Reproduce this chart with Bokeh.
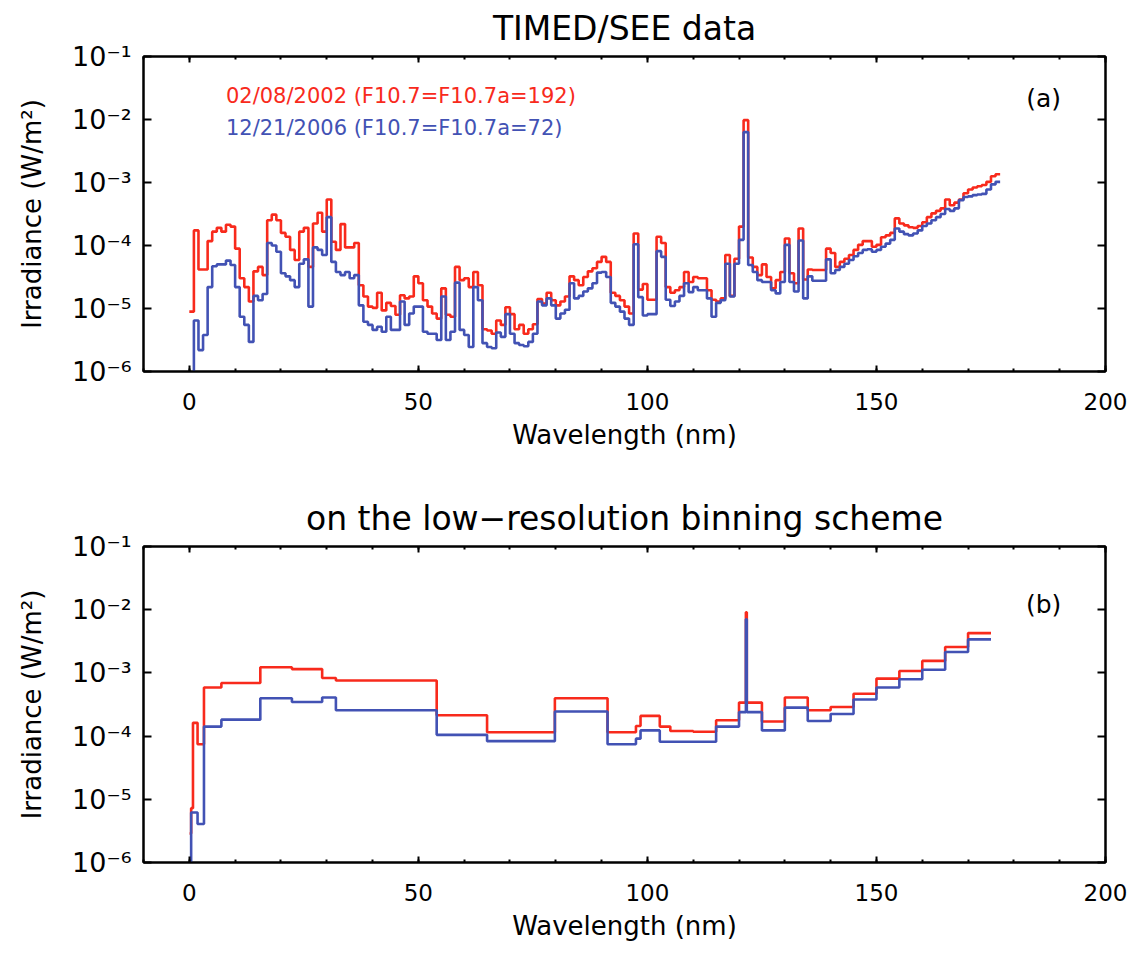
from bokeh.plotting import figure
from bokeh.layouts import column
from bokeh.models import (Range1d, LinearAxis, LogAxis, FixedTicker,
                          SingleIntervalTicker, CustomJSTickFormatter, Label,
                          CustomLabelingPolicy)
from bokeh.embed import file_html
from bokeh.resources import INLINE

FONT = "DejaVu Sans"
RED = "#f82a1c"
BLUE = "#4252b4"

# TIMED/SEE spectra in 1 nm bins (edges 0..177 nm), log10 of irradiance in W/m^2
see_edges = list(range(0, 178))

red_log10 = [
    -5.05, -3.76, -4.38, -4.38, -3.93, -3.78, -3.72, -3.78, -3.67, -3.70,
    -4.05, -4.52, -4.66, -4.89, -4.41, -4.34, -4.47, -3.60, -3.51, -3.60,
    -3.80, -3.86, -4.07, -4.23, -3.78, -3.72, -4.34, -3.65, -3.48, -3.78,
    -3.27, -3.94, -4.07, -3.66, -4.03, -4.03, -3.96, -4.63, -4.81, -4.97,
    -4.99, -4.75, -5.03, -4.91, -4.96, -5.10, -4.79, -4.84, -4.81, -4.49,
    -4.60, -4.87, -4.97, -5.08, -5.16, -4.68, -5.10, -5.13, -4.34, -4.55,
    -4.52, -4.66, -4.42, -4.63, -5.33, -5.35, -5.40, -5.19, -5.26, -4.98,
    -5.09, -5.33, -5.26, -5.40, -5.33, -5.25, -4.85, -4.92, -4.75, -4.87,
    -4.95, -4.89, -4.81, -4.49, -4.55, -4.63, -4.50, -4.41, -4.36, -4.26,
    -4.18, -4.26, -4.75, -4.80, -4.87, -4.97, -5.08, -3.81, -4.70, -4.61,
    -4.86, -4.86, -3.86, -3.96, -4.66, -4.75, -4.71, -4.66, -4.42, -4.58,
    -4.50, -4.52, -4.52, -4.71, -4.86, -4.89, -4.84, -4.15, -4.80, -4.21,
    -3.70, -2.01, -4.19, -4.34, -4.47, -4.30, -4.50, -4.68, -4.55, -4.42,
    -3.89, -4.44, -4.60, -3.73, -4.54, -4.38, -4.39, -4.39, -4.39, -4.05,
    -4.12, -4.34, -4.26, -4.21, -4.15, -4.07, -3.99, -3.93, -3.93, -4.02,
    -3.99, -3.87, -3.84, -3.80, -3.57, -3.65, -3.68, -3.71, -3.72, -3.69,
    -3.63, -3.55, -3.49, -3.45, -3.41, -3.27, -3.36, -3.32, -3.27, -3.17,
    -3.11, -3.08, -3.06, -3.04, -2.99, -2.90, -2.87,
]

blue_log10 = [
    -6.50, -5.19, -5.66, -5.42, -4.66, -4.33, -4.30, -4.30, -4.24, -4.31,
    -4.66, -5.13, -5.26, -5.53, -4.80, -4.87, -4.77, -3.96, -4.00, -4.10,
    -4.44, -4.49, -4.55, -4.66, -4.29, -4.22, -4.97, -4.03, -4.07, -4.15,
    -3.55, -4.26, -4.42, -4.47, -4.42, -4.52, -4.47, -4.95, -5.21, -5.26,
    -5.34, -5.29, -5.37, -5.13, -5.34, -5.34, -4.89, -5.26, -5.08, -4.97,
    -4.97, -5.37, -5.40, -5.40, -5.50, -4.81, -5.50, -5.37, -4.59, -5.34,
    -5.42, -5.61, -4.66, -4.87, -5.55, -5.61, -5.63, -5.38, -5.45, -5.09,
    -5.40, -5.55, -5.58, -5.60, -5.53, -5.40, -4.89, -4.95, -4.84, -4.95,
    -5.16, -5.08, -5.02, -4.60, -4.84, -4.80, -4.73, -4.68, -4.60, -4.43,
    -4.42, -4.50, -4.91, -4.97, -5.05, -5.16, -5.26, -3.98, -4.82, -5.11,
    -5.09, -5.09, -4.09, -4.18, -4.86, -4.96, -4.89, -4.80, -4.60, -4.74,
    -4.66, -4.71, -4.71, -4.84, -5.13, -4.91, -4.87, -4.29, -4.81, -4.29,
    -3.91, -2.20, -4.31, -4.42, -4.55, -4.58, -4.58, -4.71, -4.76, -4.58,
    -3.99, -4.58, -4.73, -3.92, -4.84, -4.49, -4.56, -4.56, -4.56, -4.22,
    -4.44, -4.39, -4.34, -4.29, -4.23, -4.17, -4.12, -4.07, -4.06, -4.10,
    -4.07, -4.02, -3.97, -3.91, -3.73, -3.78, -3.82, -3.84, -3.81, -3.76,
    -3.69, -3.65, -3.60, -3.55, -3.50, -3.42, -3.45, -3.41, -3.28, -3.23,
    -3.22, -3.20, -3.19, -3.18, -3.11, -3.03, -2.99,
]

# Low-resolution binning scheme (nm edges) and binned log10 irradiance
low_edges = [0.05, 0.4, 0.8, 1.8, 3.2, 7.0, 15.5, 22.4, 29.0, 32.0, 54.0,
             65.0, 79.8, 91.3, 97.5, 98.5, 102.7, 105.0, 110.0, 115.0, 120.0,
             121.5, 121.7, 125.0, 130.0, 135.0, 140.0, 145.0, 150.0, 155.0,
             160.0, 165.0, 170.0, 175.0]

red_low_log10 = [-5.54, -5.14, -3.79, -4.13, -3.23, -3.16, -2.91, -2.94,
                 -3.08, -3.12, -3.67, -3.94, -3.40, -3.94, -3.84, -3.68,
                 -3.85, -3.92, -3.93, -3.75, -3.47, -2.04, -3.47, -3.77,
                 -3.39, -3.59, -3.54, -3.33, -3.09, -2.97, -2.81, -2.59,
                 -2.37]

blue_low_log10 = [-6.50, -5.21, -5.21, -5.39, -3.85, -3.74, -3.40, -3.46,
                  -3.39, -3.59, -3.98, -4.08, -3.61, -4.13, -4.04, -3.91,
                  -4.09, -4.09, -4.09, -3.85, -3.62, -2.15, -3.62, -3.91,
                  -3.55, -3.76, -3.65, -3.42, -3.23, -3.10, -2.95, -2.67,
                  -2.47]

decade_ticks = [1e-6, 1e-5, 1e-4, 1e-3, 1e-2, 1e-1]

legend_red = "02/08/2002 (F10.7=F10.7a=192)"
legend_blue = "12/21/2006 (F10.7=F10.7a=72)"

POW_JS = """
const e = Math.round(Math.log10(tick));
const sup = {"-": "\u207b", "0": "\u2070", "1": "\u00b9", "2": "\u00b2",
             "3": "\u00b3", "4": "\u2074", "5": "\u2075", "6": "\u2076",
             "7": "\u2077", "8": "\u2078", "9": "\u2079"};
return "10" + String(e).split("").map(c => sup[c]).join("");
"""

# mirrored axes keep their ticks but draw no labels
HIDE_LABELS_JS = """
for (const i of indices) {
    indices.unset(i)
}
return indices
"""


def steps(edges, logs):
    ys = [10.0 ** v for v in logs]
    return list(edges), ys + [ys[-1]]


def style_x(axis, labels):
    axis.ticker = SingleIntervalTicker(interval=50, num_minor_ticks=5)
    axis.axis_line_color = "black"
    axis.axis_line_width = 2
    axis.major_tick_in = 6
    axis.major_tick_out = 0
    axis.minor_tick_in = 3
    axis.minor_tick_out = 0
    axis.major_tick_line_width = 2
    axis.minor_tick_line_width = 2
    axis.major_tick_line_color = "black"
    axis.minor_tick_line_color = "black"
    axis.major_label_text_font = FONT
    axis.major_label_text_color = "black"
    if labels:
        axis.major_label_text_font_size = "23px"
        axis.major_label_standoff = 21
        axis.axis_label = "Wavelength (nm)"
        axis.axis_label_text_font = FONT
        axis.axis_label_text_font_size = "26px"
        axis.axis_label_text_font_style = "normal"
        axis.axis_label_text_color = "black"
        axis.axis_label_standoff = 7
    else:
        axis.major_label_text_font_size = "1px"
        axis.major_label_policy = CustomLabelingPolicy(code=HIDE_LABELS_JS)
        axis.major_label_standoff = 0


def style_y(axis, labels):
    axis.ticker = FixedTicker(ticks=decade_ticks, minor_ticks=[])
    axis.axis_line_color = "black"
    axis.axis_line_width = 2
    axis.major_tick_in = 8
    axis.major_tick_out = 0
    axis.minor_tick_line_color = None
    axis.major_tick_line_width = 2
    axis.major_tick_line_color = "black"
    axis.formatter = CustomJSTickFormatter(code=POW_JS)
    axis.major_label_text_font = FONT
    axis.major_label_text_color = "black"
    if labels:
        axis.major_label_text_font_size = "27px"
        axis.major_label_standoff = 12
        axis.axis_label = "Irradiance (W/m\u00b2)"
        axis.axis_label_text_font = FONT
        axis.axis_label_text_font_size = "26px"
        axis.axis_label_text_font_style = "normal"
        axis.axis_label_text_color = "black"
        axis.axis_label_standoff = 22
    else:
        axis.major_label_text_font_size = "1px"
        axis.major_label_policy = CustomLabelingPolicy(code=HIDE_LABELS_JS)
        axis.major_label_standoff = 0


def make_panel(title, height, border_bottom):
    p = figure(width=1144, height=height, x_range=Range1d(-10, 200),
               y_range=Range1d(1e-6, 1e-1), y_axis_type="log",
               output_backend="svg", toolbar_location=None,
               min_border_left=143, min_border_right=39,
               min_border_top=56, min_border_bottom=border_bottom,
               title=title)
    p.title.align = "center"
    p.title.text_font = FONT
    p.title.text_font_size = "33px"
    p.title.text_font_style = "normal"
    p.title.text_color = "black"
    p.xgrid.visible = False
    p.ygrid.visible = False
    p.outline_line_color = "black"
    p.outline_line_width = 2
    p.background_fill_color = "white"
    p.border_fill_color = "white"
    style_x(p.xaxis[0], True)
    style_y(p.yaxis[0], True)
    top_axis = LinearAxis()
    style_x(top_axis, False)
    p.add_layout(top_axis, "above")
    right_axis = LogAxis()
    style_y(right_axis, False)
    p.add_layout(right_axis, "right")
    return p


# Panel (a): full TIMED/SEE spectra
p1 = make_panel("TIMED/SEE data", 490, 119)
x, y = steps(see_edges, red_log10)
p1.step(x, y, mode="after", line_color=RED, line_width=2.6)
x, y = steps(see_edges, blue_log10)
p1.step(x, y, mode="after", line_color=BLUE, line_width=2.6)
p1.add_layout(Label(x=8, y=10 ** -1.63, text=legend_red, text_color=RED,
                    text_font=FONT, text_font_size="21px",
                    text_baseline="middle"))
p1.add_layout(Label(x=8, y=10 ** -2.14, text=legend_blue, text_color=BLUE,
                    text_font=FONT, text_font_size="21px",
                    text_baseline="middle"))
p1.add_layout(Label(x=186.5, y=10 ** -1.66, text="(a)", text_color="black",
                    text_font=FONT, text_font_size="25px",
                    text_baseline="middle", text_align="center"))

# Panel (b): same spectra on the low-resolution bins
p2 = make_panel("on the low\u2212resolution binning scheme", 463, 91)
x, y = steps(low_edges, red_low_log10)
p2.step(x, y, mode="after", line_color=RED, line_width=2.6)
x, y = steps(low_edges, blue_low_log10)
p2.step(x, y, mode="after", line_color=BLUE, line_width=2.6)
p2.add_layout(Label(x=186.5, y=10 ** -1.92, text="(b)", text_color="black",
                    text_font=FONT, text_font_size="25px",
                    text_baseline="middle", text_align="center"))

layout = column(p1, p2, spacing=0)
open("out.html", "w").write(file_html(layout, INLINE))
